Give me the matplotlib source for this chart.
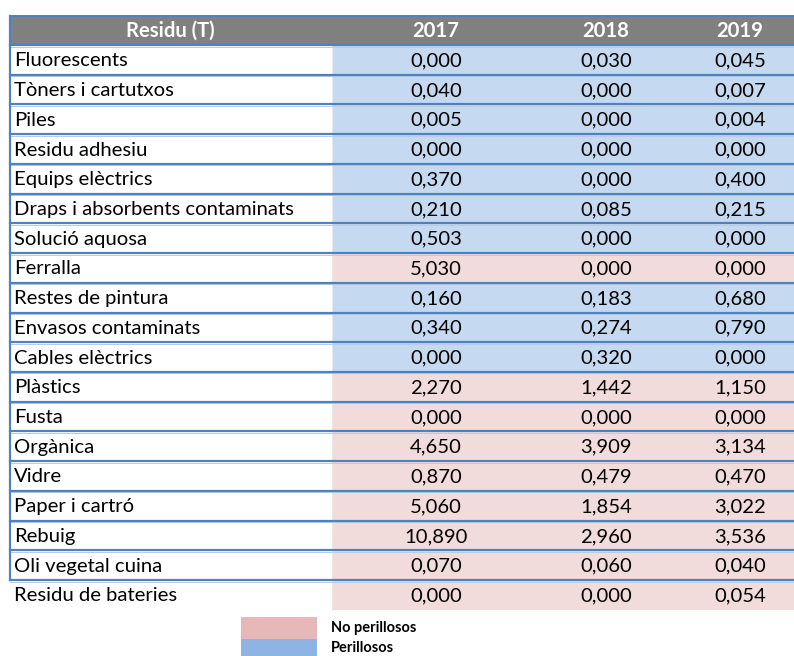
import matplotlib
matplotlib.use("Agg")
import matplotlib.pyplot as plt
from matplotlib.patches import Rectangle

rows = ["Fluorescents", "Tòners i cartutxos", "Piles", "Residu adhesiu",
        "Equips elèctrics", "Draps i absorbents contaminats", "Solució aquosa",
        "Ferralla", "Restes de pintura", "Envasos contaminats", "Cables elèctrics",
        "Plàstics", "Fusta", "Orgànica", "Vidre", "Paper i cartró", "Rebuig",
        "Oli vegetal cuina", "Residu de bateries"]
years = ["2017", "2018", "2019"]
v2017 = [0.000, 0.040, 0.005, 0.000, 0.370, 0.210, 0.503, 5.030, 0.160, 0.340,
         0.000, 2.270, 0.000, 4.650, 0.870, 5.060, 10.890, 0.070, 0.000]
v2018 = [0.030, 0.000, 0.000, 0.000, 0.000, 0.085, 0.000, 0.000, 0.183, 0.274,
         0.320, 1.442, 0.000, 3.909, 0.479, 1.854, 2.960, 0.060, 0.000]
v2019 = [0.045, 0.007, 0.004, 0.000, 0.400, 0.215, 0.000, 0.000, 0.680, 0.790,
         0.000, 1.150, 0.000, 3.134, 0.470, 3.022, 3.536, 0.040, 0.054]
hazard = ["P", "P", "P", "P", "P", "P", "P", "N", "P", "P", "P",
          "N", "N", "N", "N", "N", "N", "N", "N"]
header = "Residu (T)"
legend_labels = ["No perillosos", "Perillosos"]

W, H = 794, 656
fig = plt.figure(figsize=(W / 100, H / 100), dpi=100)
ax = fig.add_axes([0, 0, 1, 1])
ax.set_xlim(0, W)
ax.set_ylim(H, 0)
ax.axis("off")

FONT = "Lato"
blue_line = "#4F81BD"
light_line = "#B8CCE4"
fill = {"P": "#C5D9F1", "N": "#F2DCDB"}
leg_fill = {"N": "#E6B8B7", "P": "#8DB4E2"}

x_left, x_split, x_right = 9.5, 332, W
col_centers = [436, 606, 740]
header_top, header_bot = 16, 45
row_h = (580 - header_bot) / 18.0
px = 0.72  # points per pixel
fs = 14.6

# header
ax.add_patch(Rectangle((x_left, header_top), x_right - x_left, header_bot - header_top,
                       facecolor="#808080", edgecolor="none"))
hy = (header_top + header_bot) / 2 + 0.5
ax.text((x_left + x_split) / 2, hy, header, color="white", fontweight="bold",
        fontsize=14.6, ha="center", va="center", family=FONT)
for c, y in zip(col_centers, years):
    ax.text(c, hy, y, color="white", fontweight="bold", fontsize=14.6,
            ha="center", va="center", family=FONT)

vals = list(zip(v2017, v2018, v2019))
n = len(rows)
for i, name in enumerate(rows):
    top = header_bot + i * row_h
    ax.add_patch(Rectangle((x_split, top), x_right - x_split, row_h,
                           facecolor=fill[hazard[i]], edgecolor="none"))
    cy = top + row_h / 2 + 1
    ax.text(14, cy, name, fontsize=fs, ha="left", va="center", family=FONT,
            color="black")
    for c, v in zip(col_centers, vals[i]):
        ax.text(c, cy, f"{v:.3f}".replace(".", ","), fontsize=fs,
                ha="center", va="center", family=FONT, color="black")

# light vertical separator
ax.plot([x_split, x_split], [header_bot, header_bot + n * row_h],
        color="#E8E8E8", lw=1 * px, zorder=2)

# horizontal lines
ax.plot([x_left, x_right], [header_top, header_top], color=blue_line, lw=2 * px, zorder=3)
for i in range(n):
    y = header_bot + i * row_h
    ax.plot([x_left, x_right], [y + 1.5, y + 1.5], color=light_line, lw=1 * px, zorder=3)
    ax.plot([x_left, x_right], [y, y], color=blue_line, lw=2.2 * px, zorder=4)
# left border
ax.plot([x_left, x_left], [header_top, header_bot + (n - 1) * row_h],
        color=blue_line, lw=2.2 * px, zorder=4)

# legend
lx0, lx1 = 241, 317
ax.add_patch(Rectangle((lx0, 617), lx1 - lx0, 22, facecolor=leg_fill["N"], edgecolor="none"))
ax.add_patch(Rectangle((lx0, 639), lx1 - lx0, 20, facecolor=leg_fill["P"], edgecolor="none"))
ax.text(331, 628, legend_labels[0], fontsize=10.5, fontweight="bold", ha="left",
        va="center", family=FONT)
ax.text(331, 648, legend_labels[1], fontsize=10.5, fontweight="bold", ha="left",
        va="center", family=FONT)

fig.savefig("out.png", dpi=100)
